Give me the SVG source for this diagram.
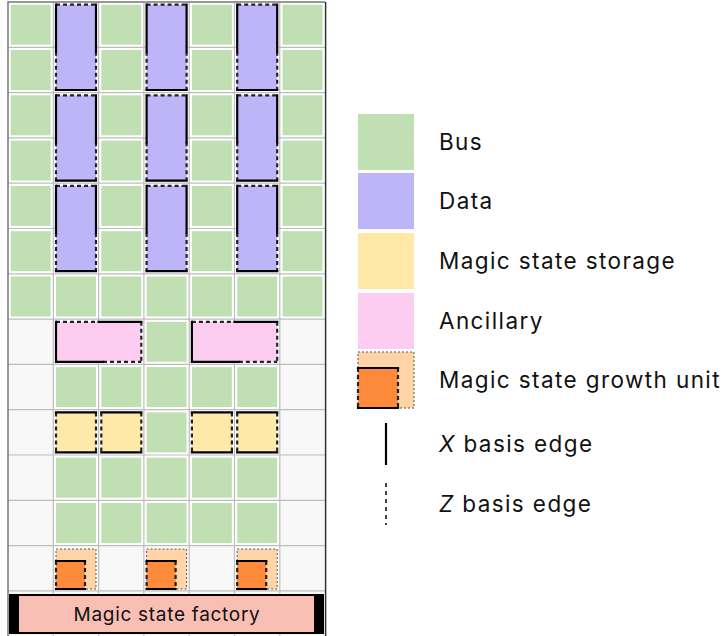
<svg xmlns="http://www.w3.org/2000/svg" xmlns:xlink="http://www.w3.org/1999/xlink" width="726" height="636" viewBox="0 0 726 636">
<style>
.bus{fill:#c0e0b4}
.data{fill:#bdb5f8}
.stor{fill:#fee9a8}
.anc{fill:#fdcdf1}
.gro{fill:#ffd4a6}
.gin{fill:#fe8b3b}
.x{fill:none;stroke:#000;stroke-width:2.2;stroke-linecap:square}
.z{fill:none;stroke:#222;stroke-width:2.2;stroke-dasharray:4 3}
.thin{fill:none;stroke:#555;stroke-width:1;stroke-dasharray:2 2}
.grid{fill:none;stroke:#bdbdbd;stroke-width:1.2}
.lbl{font-family:Inter,"Liberation Sans",sans-serif;font-size:22.5px;letter-spacing:1.4px;fill:#111}
.ftxt{font-family:Inter,"Liberation Sans",sans-serif;font-size:19px;letter-spacing:0.7px;fill:#111}
</style>
<defs>
<g id="busT"><rect class="bus" width="40" height="40"/></g>
<g id="dataT">
<rect class="data" width="40" height="85.3"/>
<path class="z" d="M0 0H40M0 47V85.3M40 47V85.3"/>
<path class="x" d="M0 0V47M40 0V47M0 85.3H40"/>
</g>
<g id="ancT">
<rect class="anc" width="85.3" height="40"/>
<path class="z" d="M0 0H42.6M85.3 0V40M47 40H85.3"/>
<path class="x" d="M0 0V40M42.6 0H85.3M0 40H47"/>
</g>
<g id="storT">
<rect class="stor" width="40" height="40"/>
<path class="z" d="M0 0V40M40 0V40"/>
<path class="x" d="M0 0H40M0 40H40"/>
</g>
<g id="groT">
<rect class="gro" width="40" height="40"/>
<rect class="thin" width="40" height="40"/>
<rect class="gin" x="0" y="12" width="29" height="28"/>
<path class="z" d="M0 12V40M29 12V40"/>
<path class="x" d="M0 12H29M0 40H29"/>
</g>
</defs>

<g id="background">
<rect x="8" y="2" width="317.1" height="634" fill="#f8f8f8"/>
<rect x="8" y="2" width="317.1" height="317.1" fill="#fff"/>
<rect x="53.3" y="319.1" width="226.5" height="226.5" fill="#fff"/>
<rect x="53.3" y="545.6" width="45.3" height="45.3" fill="#fff"/>
<rect x="143.9" y="545.6" width="45.3" height="45.3" fill="#fff"/>
<rect x="234.5" y="545.6" width="45.3" height="45.3" fill="#fff"/>
<path class="grid" d="M53.3 2V636M98.6 2V636M143.9 2V636M189.2 2V636M234.5 2V636M279.8 2V636M8 47.3H325.1M8 92.6H325.1M8 137.9H325.1M8 183.2H325.1M8 228.5H325.1M8 273.8H325.1M8 319.1H325.1M8 364.4H325.1M8 409.7H325.1M8 455H325.1M8 500.3H325.1M8 545.6H325.1M8 590.9H325.1"/>
<path d="M8 636V2H325.1" fill="none" stroke="#777" stroke-width="1.5"/>
<path d="M325.6 2V636" fill="none" stroke="#333" stroke-width="1.5"/>
</g>

<g id="nodes">
<g id="bus-r0c0"><use xlink:href="#busT" x="10.7" y="4.7"/></g>
<g id="bus-r0c2"><use xlink:href="#busT" x="101.3" y="4.7"/></g>
<g id="bus-r0c4"><use xlink:href="#busT" x="191.9" y="4.7"/></g>
<g id="bus-r0c6"><use xlink:href="#busT" x="282.5" y="4.7"/></g>
<g id="bus-r1c0"><use xlink:href="#busT" x="10.7" y="50"/></g>
<g id="bus-r1c2"><use xlink:href="#busT" x="101.3" y="50"/></g>
<g id="bus-r1c4"><use xlink:href="#busT" x="191.9" y="50"/></g>
<g id="bus-r1c6"><use xlink:href="#busT" x="282.5" y="50"/></g>
<g id="bus-r2c0"><use xlink:href="#busT" x="10.7" y="95.3"/></g>
<g id="bus-r2c2"><use xlink:href="#busT" x="101.3" y="95.3"/></g>
<g id="bus-r2c4"><use xlink:href="#busT" x="191.9" y="95.3"/></g>
<g id="bus-r2c6"><use xlink:href="#busT" x="282.5" y="95.3"/></g>
<g id="bus-r3c0"><use xlink:href="#busT" x="10.7" y="140.6"/></g>
<g id="bus-r3c2"><use xlink:href="#busT" x="101.3" y="140.6"/></g>
<g id="bus-r3c4"><use xlink:href="#busT" x="191.9" y="140.6"/></g>
<g id="bus-r3c6"><use xlink:href="#busT" x="282.5" y="140.6"/></g>
<g id="bus-r4c0"><use xlink:href="#busT" x="10.7" y="185.9"/></g>
<g id="bus-r4c2"><use xlink:href="#busT" x="101.3" y="185.9"/></g>
<g id="bus-r4c4"><use xlink:href="#busT" x="191.9" y="185.9"/></g>
<g id="bus-r4c6"><use xlink:href="#busT" x="282.5" y="185.9"/></g>
<g id="bus-r5c0"><use xlink:href="#busT" x="10.7" y="231.2"/></g>
<g id="bus-r5c2"><use xlink:href="#busT" x="101.3" y="231.2"/></g>
<g id="bus-r5c4"><use xlink:href="#busT" x="191.9" y="231.2"/></g>
<g id="bus-r5c6"><use xlink:href="#busT" x="282.5" y="231.2"/></g>
<g id="bus-r6c0"><use xlink:href="#busT" x="10.7" y="276.5"/></g>
<g id="bus-r6c1"><use xlink:href="#busT" x="56" y="276.5"/></g>
<g id="bus-r6c2"><use xlink:href="#busT" x="101.3" y="276.5"/></g>
<g id="bus-r6c3"><use xlink:href="#busT" x="146.6" y="276.5"/></g>
<g id="bus-r6c4"><use xlink:href="#busT" x="191.9" y="276.5"/></g>
<g id="bus-r6c5"><use xlink:href="#busT" x="237.2" y="276.5"/></g>
<g id="bus-r6c6"><use xlink:href="#busT" x="282.5" y="276.5"/></g>
<g id="bus-r7c3"><use xlink:href="#busT" x="146.6" y="321.8"/></g>
<g id="bus-r8c1"><use xlink:href="#busT" x="56" y="367.1"/></g>
<g id="bus-r8c2"><use xlink:href="#busT" x="101.3" y="367.1"/></g>
<g id="bus-r8c3"><use xlink:href="#busT" x="146.6" y="367.1"/></g>
<g id="bus-r8c4"><use xlink:href="#busT" x="191.9" y="367.1"/></g>
<g id="bus-r8c5"><use xlink:href="#busT" x="237.2" y="367.1"/></g>
<g id="bus-r9c3"><use xlink:href="#busT" x="146.6" y="412.4"/></g>
<g id="bus-r10c1"><use xlink:href="#busT" x="56" y="457.7"/></g>
<g id="bus-r10c2"><use xlink:href="#busT" x="101.3" y="457.7"/></g>
<g id="bus-r10c3"><use xlink:href="#busT" x="146.6" y="457.7"/></g>
<g id="bus-r10c4"><use xlink:href="#busT" x="191.9" y="457.7"/></g>
<g id="bus-r10c5"><use xlink:href="#busT" x="237.2" y="457.7"/></g>
<g id="bus-r11c1"><use xlink:href="#busT" x="56" y="503"/></g>
<g id="bus-r11c2"><use xlink:href="#busT" x="101.3" y="503"/></g>
<g id="bus-r11c3"><use xlink:href="#busT" x="146.6" y="503"/></g>
<g id="bus-r11c4"><use xlink:href="#busT" x="191.9" y="503"/></g>
<g id="bus-r11c5"><use xlink:href="#busT" x="237.2" y="503"/></g>

<g id="data-r0c1"><use xlink:href="#dataT" x="56" y="4.7"/></g>
<g id="data-r0c3"><use xlink:href="#dataT" x="146.6" y="4.7"/></g>
<g id="data-r0c5"><use xlink:href="#dataT" x="237.2" y="4.7"/></g>
<g id="data-r2c1"><use xlink:href="#dataT" x="56" y="95.3"/></g>
<g id="data-r2c3"><use xlink:href="#dataT" x="146.6" y="95.3"/></g>
<g id="data-r2c5"><use xlink:href="#dataT" x="237.2" y="95.3"/></g>
<g id="data-r4c1"><use xlink:href="#dataT" x="56" y="185.9"/></g>
<g id="data-r4c3"><use xlink:href="#dataT" x="146.6" y="185.9"/></g>
<g id="data-r4c5"><use xlink:href="#dataT" x="237.2" y="185.9"/></g>

<g id="anc-left"><use xlink:href="#ancT" x="56" y="321.8"/></g>
<g id="anc-right"><use xlink:href="#ancT" x="191.9" y="321.8"/></g>

<g id="stor-c1"><use xlink:href="#storT" x="56" y="412.4"/></g>
<g id="stor-c2"><use xlink:href="#storT" x="101.3" y="412.4"/></g>
<g id="stor-c4"><use xlink:href="#storT" x="191.9" y="412.4"/></g>
<g id="stor-c5"><use xlink:href="#storT" x="237.2" y="412.4"/></g>

<g id="growth-c1"><use xlink:href="#groT" x="56" y="549"/></g>
<g id="growth-c3"><use xlink:href="#groT" x="146.6" y="549"/></g>
<g id="growth-c5"><use xlink:href="#groT" x="237.2" y="549"/></g>

<g id="factory">
<rect x="10" y="595" width="313" height="38" fill="#fabfb4" stroke="#000" stroke-width="2"/>
<rect x="10" y="595" width="9" height="38" fill="#000"/>
<rect x="314" y="595" width="9" height="38" fill="#000"/>
<text class="ftxt" x="167" y="621" text-anchor="middle">Magic state factory</text>
</g>
</g>

<g id="connectors"></g>

<g id="legend">
<g id="legend-bus"><rect class="bus" x="358" y="114" width="56" height="56"/><text class="lbl" x="439" y="150">Bus</text></g>
<g id="legend-data"><rect class="data" x="358" y="173" width="56" height="56"/><text class="lbl" x="439" y="209">Data</text></g>
<g id="legend-storage"><rect class="stor" x="358" y="233" width="56" height="56"/><text class="lbl" x="439" y="269">Magic state storage</text></g>
<g id="legend-anc"><rect class="anc" x="358" y="293" width="56" height="56"/><text class="lbl" x="439" y="329">Ancillary</text></g>
<g id="legend-growth">
<rect class="gro" x="358" y="352" width="56" height="56"/>
<rect class="thin" x="358" y="352" width="56" height="56"/>
<rect class="gin" x="358" y="368" width="40" height="40"/>
<path class="z" d="M358 368V408M398 368V408"/>
<path class="x" d="M358 368H398M358 408H398"/>
<text class="lbl" x="439" y="388">Magic state growth unit</text>
</g>
<g id="legend-x"><path d="M386 423V465" stroke="#000" stroke-width="2.2" fill="none"/><text class="lbl" x="439" y="452"><tspan font-style="italic">X</tspan> basis edge</text></g>
<g id="legend-z"><path d="M386 483V525" stroke="#000" stroke-width="1.5" stroke-dasharray="4 4" fill="none"/><text class="lbl" x="439" y="512"><tspan font-style="italic">Z</tspan> basis edge</text></g>
</g>
</svg>
